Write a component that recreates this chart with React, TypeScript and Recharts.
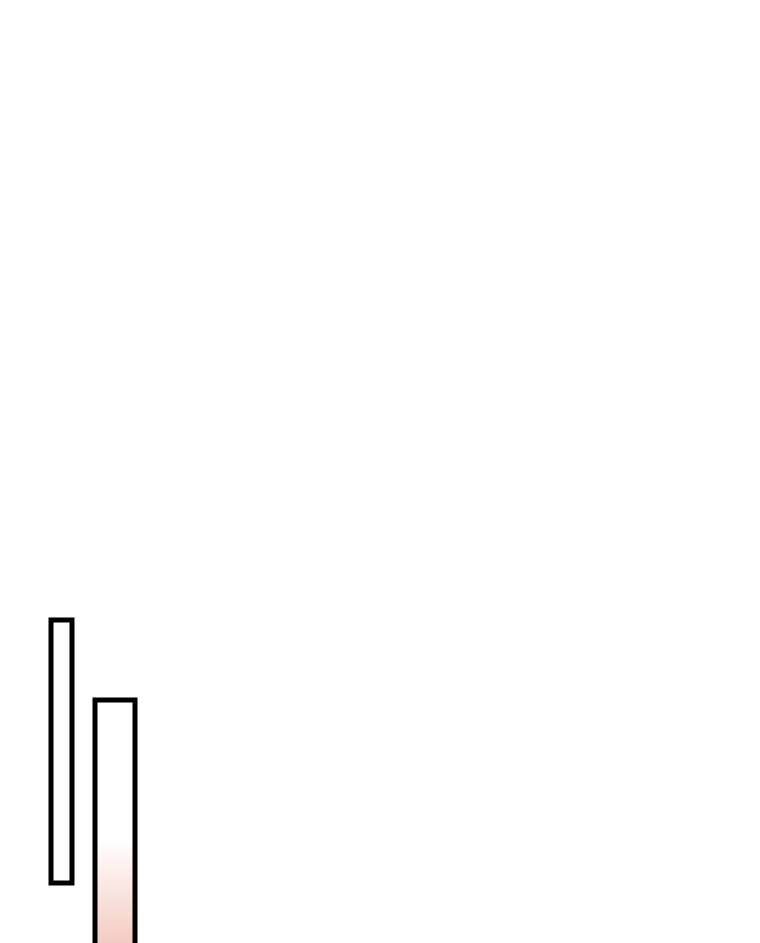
import React from 'react';
import { BarChart, Bar, XAxis, YAxis } from 'recharts';

// Colours
const strokeColor = '#000000';
const plainFill = '#FFFFFF';
const blushColor = '#EEB5A8';

// Data: two floating bars in one category, [low, high] on a 0..106 scale
const categories = ['A'];
const firstLow = [18.5];
const firstHigh = [44.8];
const secondLow = [8];
const secondHigh = [36.8];

const chartData = categories.map((name, i) => ({
  name,
  first: [firstLow[i], firstHigh[i]],
  second: [secondLow[i], secondHigh[i]],
}));

export default function App() {
  return (
    <BarChart
      width={170}
      height={1060}
      data={chartData}
      margin={{ top: 0, right: 0, left: 0, bottom: 0 }}
      barGap={23}
    >
      <defs>
        <linearGradient id="blushFade" x1="0" y1="0" x2="0" y2="1">
          <stop offset="0%" stopColor={plainFill} />
          <stop offset="48%" stopColor={plainFill} />
          <stop offset="100%" stopColor={blushColor} />
        </linearGradient>
      </defs>
      <XAxis dataKey="name" hide />
      <YAxis hide domain={[0, 106]} />
      <Bar
        dataKey="first"
        barSize={21}
        fill={plainFill}
        stroke={strokeColor}
        strokeWidth={5}
        isAnimationActive={false}
      />
      <Bar
        dataKey="second"
        barSize={40}
        fill="url(#blushFade)"
        stroke={strokeColor}
        strokeWidth={5}
        isAnimationActive={false}
      />
    </BarChart>
  );
}
